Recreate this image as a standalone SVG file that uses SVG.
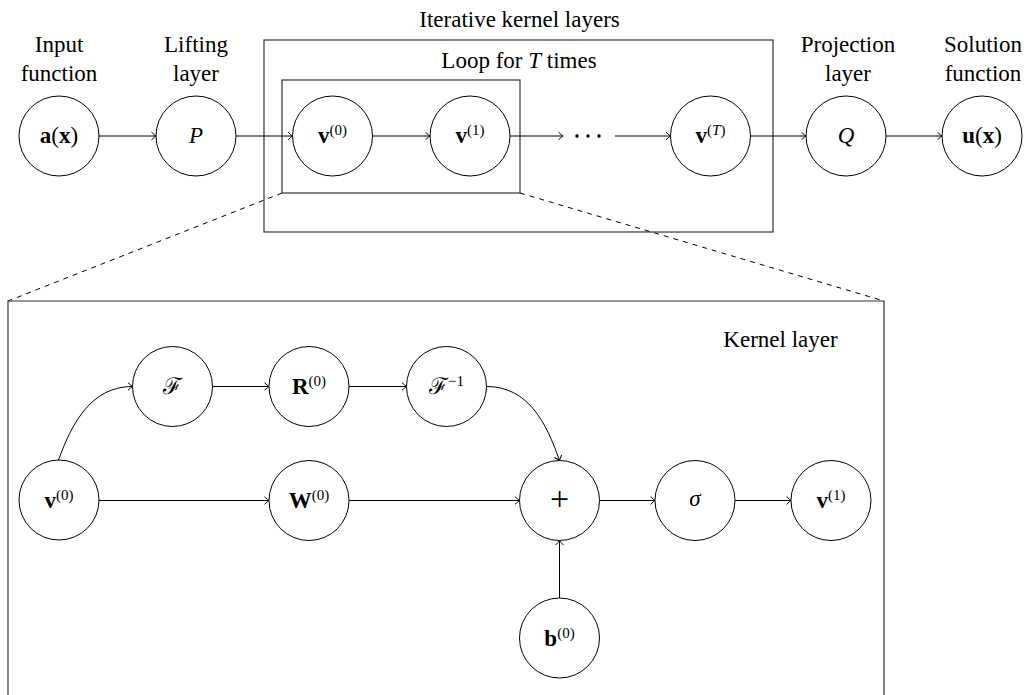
<svg xmlns="http://www.w3.org/2000/svg" width="1027" height="695" viewBox="0 0 1027 695" font-family="'Liberation Serif', 'Times New Roman', serif">
<style>
  .c { fill: #fff; stroke: #000; stroke-width: 1; }
  .box { fill: none; stroke: #333; stroke-width: 1.2; }
  .dash { fill: none; stroke: #000; stroke-width: 1; stroke-dasharray: 5 5; }
  .e { fill: none; stroke: #000; stroke-width: 1; marker-end: url(#arr); }
  .t { font-family: 'Liberation Serif', 'Times New Roman', serif; font-size: 23px; text-anchor: middle; fill: #000; }
  .m { font-family: 'Liberation Serif', 'Times New Roman', serif; font-size: 23px; text-anchor: middle; fill: #000; }
  .b { font-weight: bold; }
  .i { font-style: italic; }
  .s { font-size: 15px; font-weight: normal; }
  .pl { font-size: 34px; }
</style>
<defs>
  <marker id="arr" markerUnits="userSpaceOnUse" markerWidth="12" markerHeight="12" viewBox="-6 -6 12 12" refX="0" refY="0" orient="auto">
    <path d="M-4.5,-3.8 Q-1.2,-0.8 0,0 Q-1.2,0.8 -4.5,3.8" fill="none" stroke="#000" stroke-width="1"/>
  </marker>
</defs>

<g id="iterative-frame">
  <rect class="box" x="264" y="40" width="509" height="192"/>
  <text class="t" x="519.5" y="27">Iterative kernel layers</text>
  <text class="t" x="519" y="68">Loop for <tspan class="i">T</tspan> times</text>
</g>
<g id="loop-frame">
  <rect class="box" x="282" y="80" width="238" height="113"/>
</g>
<g id="zoom-lines">
  <line class="dash" x1="282" y1="193" x2="8" y2="301"/>
  <line class="dash" x1="520" y1="193" x2="884" y2="301"/>
</g>
<g id="kernel-frame">
  <path class="box" d="M8,700 V301 H884 V700"/>
  <text class="t" x="780.5" y="347">Kernel layer</text>
</g>

<g id="connectors">
  <line class="e" x1="99" y1="136" x2="156" y2="136"/>
  <line class="e" x1="236" y1="136" x2="292.5" y2="136"/>
  <line class="e" x1="372.5" y1="136" x2="430" y2="136"/>
  <line class="e" x1="510" y1="136" x2="563" y2="136"/>
  <line class="e" x1="615" y1="136" x2="670.5" y2="136"/>
  <line class="e" x1="750.5" y1="136" x2="806" y2="136"/>
  <line class="e" x1="886" y1="136" x2="942" y2="136"/>

  <path class="e" d="M58.5,460 C72.5,421.5 92,386.5 132.5,386.5"/>
  <line class="e" x1="212.5" y1="386.5" x2="269" y2="386.5"/>
  <line class="e" x1="349" y1="386.5" x2="406.5" y2="386.5"/>
  <path class="e" d="M486.5,386.5 C527.5,386.5 546,421.5 559.5,460.5"/>
  <line class="e" x1="99" y1="500.5" x2="269" y2="500.5"/>
  <line class="e" x1="349" y1="500.5" x2="519.5" y2="500.5"/>
  <line class="e" x1="599.5" y1="500.5" x2="655" y2="500.5"/>
  <line class="e" x1="735" y1="500.5" x2="791" y2="500.5"/>
  <line class="e" x1="559.5" y1="598" x2="559.5" y2="540.5"/>
</g>

<g id="dots">
  <circle cx="577" cy="136" r="1.7" fill="#000"/>
  <circle cx="588" cy="136" r="1.7" fill="#000"/>
  <circle cx="599" cy="136" r="1.7" fill="#000"/>
</g>

<g id="input">
  <text class="t" x="59" y="52">Input</text>
  <text class="t" x="59" y="81">function</text>
  <circle class="c" cx="59" cy="136" r="40"/>
  <text class="m" x="59" y="143"><tspan class="b">a</tspan>(<tspan class="b">x</tspan>)</text>
</g>
<g id="lifting">
  <text class="t" x="196" y="52">Lifting</text>
  <text class="t" x="196" y="81">layer</text>
  <circle class="c" cx="196" cy="136" r="40"/>
  <text class="m i" x="196" y="143">P</text>
</g>
<g id="v0-top">
  <circle class="c" cx="332.5" cy="136" r="40"/>
  <text class="m" x="332.5" y="143"><tspan class="b">v</tspan><tspan class="s" dy="-8">(0)</tspan></text>
</g>
<g id="v1-top">
  <circle class="c" cx="470" cy="136" r="40"/>
  <text class="m" x="470" y="143"><tspan class="b">v</tspan><tspan class="s" dy="-8">(1)</tspan></text>
</g>
<g id="vT-top">
  <circle class="c" cx="710.5" cy="136" r="40"/>
  <text class="m" x="710.5" y="143"><tspan class="b">v</tspan><tspan class="s" dy="-8">(<tspan class="i">T</tspan>)</tspan></text>
</g>
<g id="projection">
  <text class="t" x="848" y="52">Projection</text>
  <text class="t" x="848" y="81">layer</text>
  <circle class="c" cx="846" cy="136" r="40"/>
  <text class="m i" x="846" y="143">Q</text>
</g>
<g id="solution">
  <text class="t" x="983" y="52">Solution</text>
  <text class="t" x="983" y="81">function</text>
  <circle class="c" cx="982" cy="136" r="40"/>
  <text class="m" x="982" y="143"><tspan class="b">u</tspan>(<tspan class="b">x</tspan>)</text>
</g>

<g id="k-F">
  <circle class="c" cx="172.5" cy="386.5" r="40"/>
  <text class="m" x="172.5" y="394">ℱ</text>
</g>
<g id="k-R">
  <circle class="c" cx="309" cy="386.5" r="40"/>
  <text class="m" x="309" y="394"><tspan class="b">R</tspan><tspan class="s" dy="-8">(0)</tspan></text>
</g>
<g id="k-Finv">
  <circle class="c" cx="446.5" cy="386.5" r="40"/>
  <text class="m" x="446.5" y="394">ℱ<tspan class="s" dy="-8">−1</tspan></text>
</g>
<g id="k-v0">
  <circle class="c" cx="59" cy="500" r="40"/>
  <text class="m" x="59" y="507.5"><tspan class="b">v</tspan><tspan class="s" dy="-8">(0)</tspan></text>
</g>
<g id="k-W">
  <circle class="c" cx="309" cy="500.5" r="40"/>
  <text class="m" x="309" y="508"><tspan class="b">W</tspan><tspan class="s" dy="-8">(0)</tspan></text>
</g>
<g id="k-plus">
  <circle class="c" cx="559.5" cy="500.5" r="40"/>
  <text class="m pl" x="559.5" y="510">+</text>
</g>
<g id="k-sigma">
  <circle class="c" cx="695" cy="500.5" r="40"/>
  <text class="m i" x="695" y="506">σ</text>
</g>
<g id="k-v1">
  <circle class="c" cx="831" cy="500.5" r="40"/>
  <text class="m" x="831" y="508"><tspan class="b">v</tspan><tspan class="s" dy="-8">(1)</tspan></text>
</g>
<g id="k-b">
  <circle class="c" cx="559.5" cy="638" r="40"/>
  <text class="m" x="559.5" y="645.5"><tspan class="b">b</tspan><tspan class="s" dy="-8">(0)</tspan></text>
</g>
</svg>
